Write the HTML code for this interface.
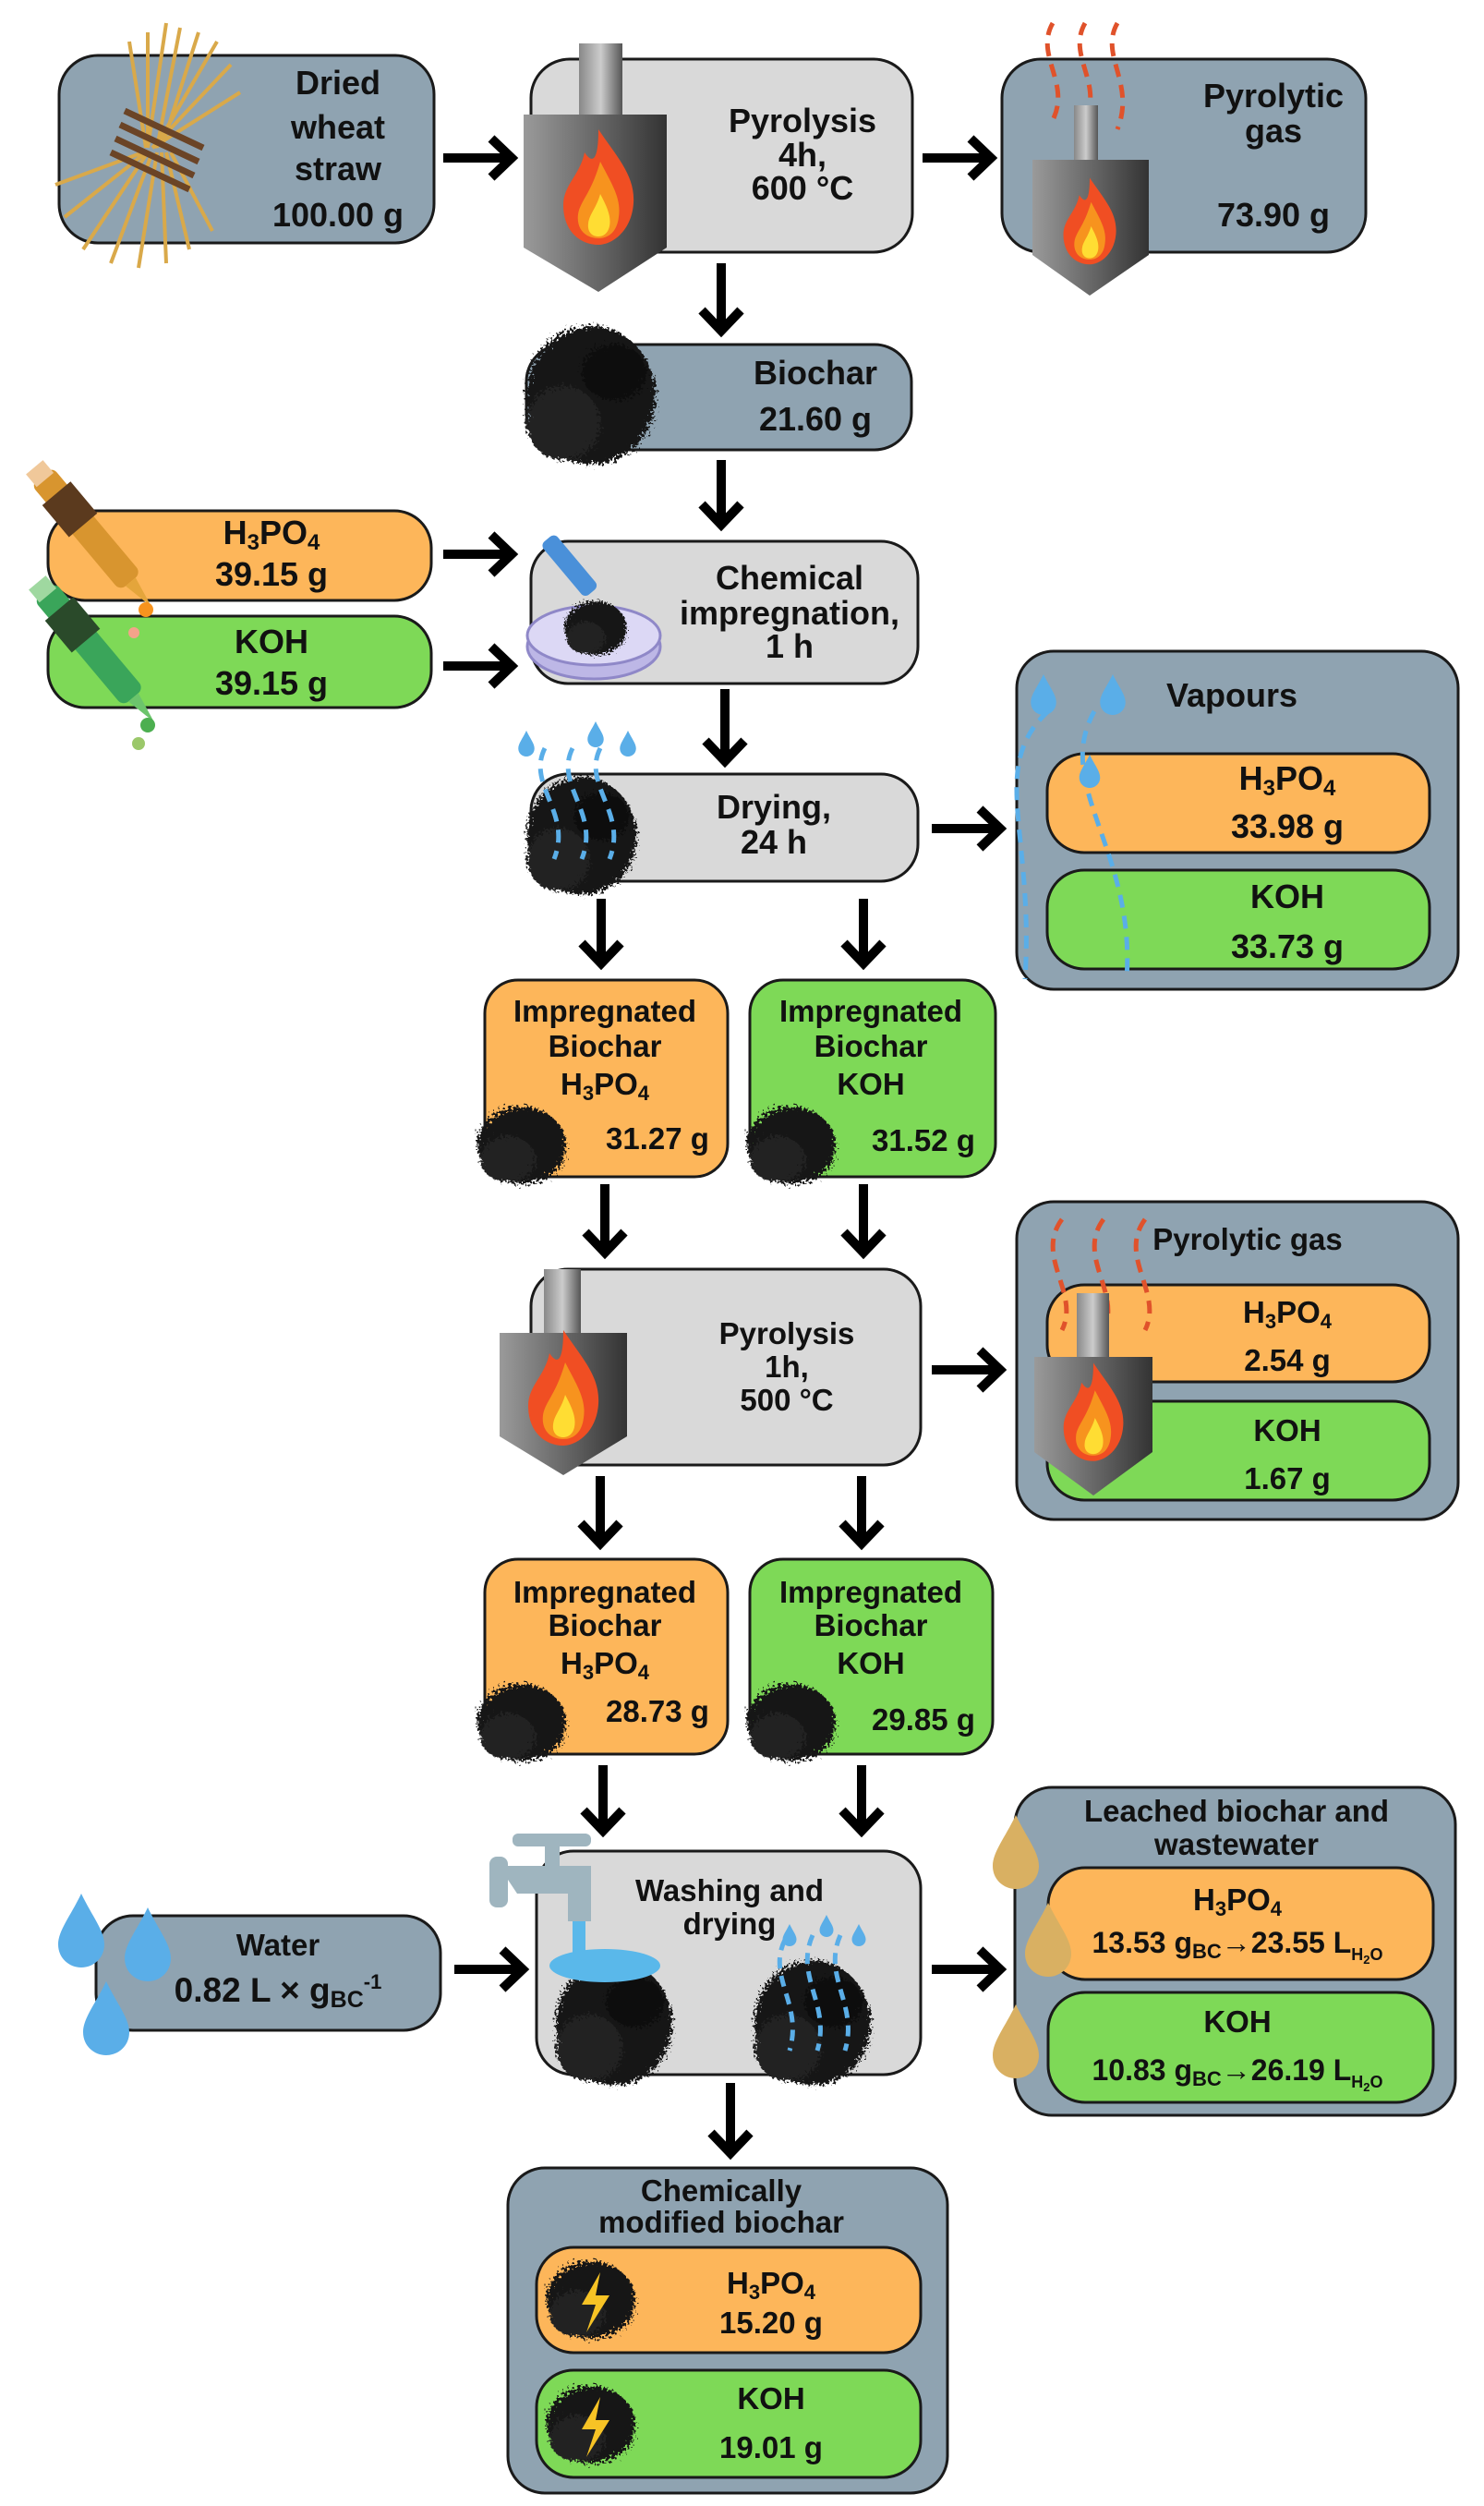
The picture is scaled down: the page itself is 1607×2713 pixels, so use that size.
<!DOCTYPE html>
<html><head><meta charset="utf-8"><style>
html,body{margin:0;padding:0;background:#fff}
svg{display:block}
text{font-family:"Liberation Sans Narrow","Liberation Sans",sans-serif;font-weight:bold;fill:#111;text-anchor:middle}
.w text,text.w{font-family:"Liberation Sans",sans-serif}
</style></head><body>
<svg width="1607" height="2713" viewBox="0 0 1607 2713" xmlns="http://www.w3.org/2000/svg">
<defs>
<linearGradient id="fg" x1="0" x2="1"><stop offset="0" stop-color="#9a9a9a"/><stop offset="0.6" stop-color="#5e5e5e"/><stop offset="1" stop-color="#333"/></linearGradient>
<linearGradient id="cg" x1="0" x2="1"><stop offset="0" stop-color="#888"/><stop offset="0.5" stop-color="#ccc"/><stop offset="1" stop-color="#555"/></linearGradient>
<filter id="rough"><feTurbulence type="fractalNoise" baseFrequency="0.35" numOctaves="2" result="n"/><feDisplacementMap in="SourceGraphic" in2="n" scale="18"/></filter>
<g id="flame"><path d="M0,-70 C20,-40 40,-20 38,10 C36,40 15,55 0,55 C-20,55 -38,40 -38,12 C-38,-10 -20,-20 -15,-45 C-5,-30 0,-40 0,-70Z" fill="#f04e23"/><path d="M2,-35 C15,-10 25,5 22,25 C20,42 10,48 0,48 C-14,48 -24,38 -22,22 C-20,8 -8,0 2,-35Z" fill="#f7931e"/><path d="M2,0 C10,15 14,25 12,35 C10,44 4,46 0,46 C-8,46 -12,40 -11,32 C-10,22 -2,15 2,0Z" fill="#ffdd33"/></g>
<g id="blob" filter="url(#rough)"><ellipse cx="0" cy="0" rx="70" ry="75" fill="#141414"/><ellipse cx="-30" cy="30" rx="40" ry="40" fill="#222"/><ellipse cx="25" cy="-25" rx="35" ry="30" fill="#0c0c0c"/></g>
<g id="blobs" filter="url(#rough)"><ellipse cx="0" cy="0" rx="48" ry="42" fill="#141414"/><ellipse cx="-15" cy="15" rx="30" ry="25" fill="#222"/></g>
<g id="drop"><path d="M0,-40 C12,-15 25,0 25,15 C25,30 13,40 0,40 C-13,40 -25,30 -25,15 C-25,0 -12,-15 0,-40Z"/></g>
</defs>

<g stroke="#1a1a1a" stroke-width="3">
<rect x="64" y="60" width="406" height="203" rx="42" fill="#8fa3b1"/>
<rect x="575" y="64" width="413" height="209" rx="42" fill="#d9d9d9"/>
<rect x="1085" y="64" width="394" height="209" rx="42" fill="#8fa3b1"/>
<rect x="570" y="373" width="417" height="114" rx="40" fill="#8fa3b1"/>
<rect x="52" y="553" width="415" height="97" rx="40" fill="#fdb65a"/>
<rect x="52" y="667" width="415" height="99" rx="40" fill="#7ed957"/>
<rect x="575" y="586" width="419" height="154" rx="40" fill="#d9d9d9"/>
<rect x="575" y="838" width="419" height="116" rx="40" fill="#d9d9d9"/>
<rect x="1101" y="705" width="478" height="366" rx="40" fill="#8fa3b1"/>
<rect x="1134" y="816" width="414" height="107" rx="40" fill="#fdb65a"/>
<rect x="1134" y="942" width="414" height="107" rx="40" fill="#7ed957"/>
<rect x="525" y="1061" width="263" height="213" rx="36" fill="#fdb65a"/>
<rect x="812" y="1061" width="266" height="213" rx="36" fill="#7ed957"/>
<rect x="575" y="1374" width="422" height="212" rx="40" fill="#d9d9d9"/>
<rect x="1101" y="1301" width="478" height="344" rx="40" fill="#8fa3b1"/>
<rect x="1134" y="1391" width="414" height="105" rx="40" fill="#fdb65a"/>
<rect x="1134" y="1517" width="414" height="107" rx="40" fill="#7ed957"/>
<rect x="525" y="1688" width="263" height="211" rx="36" fill="#fdb65a"/>
<rect x="812" y="1688" width="263" height="211" rx="36" fill="#7ed957"/>
<rect x="581" y="2004" width="416" height="242" rx="40" fill="#d9d9d9"/>
<rect x="104" y="2074" width="373" height="124" rx="40" fill="#8fa3b1"/>
<rect x="1099" y="1935" width="477" height="355" rx="40" fill="#8fa3b1"/>
<rect x="1135" y="2022" width="417" height="121" rx="40" fill="#fdb65a"/>
<rect x="1135" y="2157" width="417" height="119" rx="40" fill="#7ed957"/>
<rect x="550" y="2347" width="476" height="352" rx="40" fill="#8fa3b1"/>
<rect x="581" y="2433" width="416" height="114" rx="40" fill="#fdb65a"/>
<rect x="581" y="2566" width="416" height="116" rx="40" fill="#7ed957"/>
</g>

<g stroke="#000" stroke-width="10" fill="none" stroke-linejoin="miter">
<path d="M480,171H552M532,150L554,171L532,192"/>
<path d="M999,171H1071M1051,150L1073,171L1051,192"/>
<path d="M480,600H552M532,579L554,600L532,621"/>
<path d="M480,721H552M532,700L554,721L532,742"/>
<path d="M1009,897H1081M1061,876L1083,897L1061,918"/>
<path d="M1009,1483H1081M1061,1462L1083,1483L1061,1504"/>
<path d="M492,2132H564M544,2111L566,2132L544,2153"/>
<path d="M1009,2132H1081M1061,2111L1083,2132L1061,2153"/>
<path d="M781,285V356M760,336L781,358L802,336"/>
<path d="M781,498V566M760,546L781,568L802,546"/>
<path d="M785,746V822M764,802L785,824L806,802"/>
<path d="M651,973V1041M630,1021L651,1043L672,1021"/>
<path d="M935,973V1041M914,1021L935,1043L956,1021"/>
<path d="M655,1282V1354M634,1334L655,1356L676,1334"/>
<path d="M935,1282V1354M914,1334L935,1356L956,1334"/>
<path d="M650,1598V1669M629,1649L650,1671L671,1649"/>
<path d="M933,1598V1669M912,1649L933,1671L954,1649"/>
<path d="M653,1911V1980M632,1960L653,1982L674,1960"/>
<path d="M933,1911V1980M912,1960L933,1982L954,1960"/>
<path d="M791,2255V2329M770,2309L791,2331L812,2309"/>
</g>

<!-- straw bundle -->
<g stroke="#d9a94a" stroke-width="4" fill="none">
<path d="M175,160L215,35M170,160L195,30M168,160L235,45M165,160L250,70M160,160L180,25M165,160L260,100M160,160L160,35M158,160L140,45"/>
<path d="M160,165L90,270M165,165L120,285M170,165L150,290M175,165L180,285M180,165L205,270M158,165L70,235M155,165L60,200M185,165L230,250"/>
</g>
<g stroke="#6b4426" stroke-width="7"><path d="M130,135L215,175M125,150L210,190M120,165L205,205M135,120L220,160"/></g>

<rect x="627" y="47" width="47" height="77" fill="url(#cg)"/>
<path d="M567,124H722V268L648,316L567,268Z" fill="url(#fg)"/>
<use href="#flame" x="648" y="210"/>
<g stroke="#e0522b" stroke-width="5" fill="none" stroke-dasharray="14 9">
<path d="M1140,25C1120,60 1160,90 1140,130M1175,25C1155,60 1195,90 1175,130M1210,25C1190,60 1230,90 1210,140"/>
</g>
<rect x="1163" y="114" width="26" height="59" fill="url(#cg)"/>
<path d="M1118,173H1244V276L1180,320L1118,276Z" fill="url(#fg)"/>
<use href="#flame" x="1180" y="245" transform="translate(1180,245) scale(0.75) translate(-1180,-245)"/>

<use href="#blob" x="640" y="428"/>

<!-- droppers -->
<g transform="translate(45,515) rotate(-40)"><rect x="-15" y="0" width="30" height="150" rx="8" fill="#d8952f"/><rect x="-20" y="25" width="40" height="45" fill="#5b3a1e"/><rect x="-12" y="-12" width="24" height="18" fill="#f0c89a"/><path d="M-7,150L0,185L7,150Z" fill="#e4a53b"/></g>
<circle cx="158" cy="660" r="8" fill="#f7931e"/><circle cx="145" cy="685" r="6" fill="#f4a38a"/>
<g transform="translate(48,640) rotate(-40)"><rect x="-15" y="0" width="30" height="150" rx="8" fill="#3aa55a"/><rect x="-20" y="25" width="40" height="45" fill="#2a4a2a"/><rect x="-12" y="-12" width="24" height="18" fill="#9fd8a0"/><path d="M-7,150L0,185L7,150Z" fill="#6cc46c"/></g>
<circle cx="160" cy="785" r="8" fill="#4caf50"/><circle cx="150" cy="805" r="7" fill="#9bc86a"/>

<ellipse cx="643" cy="700" rx="72" ry="35" fill="#bdb7e6" stroke="#8f88c8" stroke-width="3"/>
<ellipse cx="643" cy="688" rx="72" ry="32" fill="#dcd8f5" stroke="#8f88c8" stroke-width="3"/>
<use href="#blobs" x="645" y="680" transform="translate(645,680) scale(0.7) translate(-645,-680)"/>
<g transform="translate(585,590) rotate(-40)"><rect x="0" y="0" width="20" height="75" rx="6" fill="#4a90d9"/></g>

<use href="#blob" x="630" y="905" transform="translate(630,905) scale(0.85) translate(-630,-905)"/>
<g stroke="#5aaee8" stroke-width="5" fill="none" stroke-dasharray="14 9">
<path d="M590,810C570,850 620,880 600,930M620,810C600,850 650,880 630,930M650,810C630,850 680,880 660,930"/>
<path d="M1135,770C1070,830 1120,900 1110,1060M1185,770C1140,850 1230,920 1220,1060"/>
</g>
<g fill="#5aaee8"><use href="#drop" x="570" y="805" transform="translate(570,805) scale(0.35) translate(-570,-805)"/><use href="#drop" x="645" y="795" transform="translate(645,795) scale(0.35) translate(-645,-795)"/><use href="#drop" x="680" y="805" transform="translate(680,805) scale(0.35) translate(-680,-805)"/>
<use href="#drop" x="1130" y="752" transform="translate(1130,752) scale(0.55) translate(-1130,-752)"/><use href="#drop" x="1205" y="752" transform="translate(1205,752) scale(0.55) translate(-1205,-752)"/><use href="#drop" x="1180" y="835" transform="translate(1180,835) scale(0.45) translate(-1180,-835)"/></g>

<use href="#blobs" x="565" y="1240"/><use href="#blobs" x="857" y="1240"/>
<use href="#blobs" x="565" y="1865"/><use href="#blobs" x="857" y="1865"/>

<rect x="589" y="1374" width="40" height="69" fill="url(#cg)"/>
<path d="M541,1443H679V1555L610,1597L541,1555Z" fill="url(#fg)"/>
<use href="#flame" x="610" y="1510"/>
<g stroke="#e0522b" stroke-width="5" fill="none" stroke-dasharray="14 9">
<path d="M1150,1320C1120,1360 1170,1400 1150,1440M1195,1320C1165,1360 1215,1400 1195,1440M1240,1320C1210,1360 1260,1400 1240,1440"/>
</g>
<rect x="1166" y="1400" width="35" height="69" fill="url(#cg)"/>
<path d="M1120,1469H1248V1572L1184,1619L1120,1572Z" fill="url(#fg)"/>
<use href="#flame" x="1184" y="1535" transform="translate(1184,1535) scale(0.85) translate(-1184,-1535)"/>

<use href="#blob" x="665" y="2190" transform="translate(665,2190) scale(0.9) translate(-665,-2190)"/>
<use href="#blob" x="880" y="2190" transform="translate(880,2190) scale(0.9) translate(-880,-2190)"/>
<ellipse cx="655" cy="2128" rx="60" ry="18" fill="#5ab8ea"/>
<g fill="#9fb5bf"><rect x="555" y="1985" width="85" height="14" rx="6"/><rect x="590" y="1995" width="16" height="25"/><path d="M540,2020H640V2080H615V2050H560Z"/><rect x="530" y="2010" width="20" height="55" rx="8"/></g>
<rect x="620" y="2080" width="14" height="50" fill="#5ab8ea"/>
<g stroke="#5aaee8" stroke-width="5" fill="none" stroke-dasharray="12 8">
<path d="M850,2100C830,2140 870,2170 855,2220M880,2095C860,2140 900,2170 885,2220M910,2095C890,2140 930,2170 915,2220"/></g>
<g fill="#5aaee8"><use href="#drop" x="855" y="2095" transform="translate(855,2095) scale(0.3) translate(-855,-2095)"/><use href="#drop" x="895" y="2085" transform="translate(895,2085) scale(0.3) translate(-895,-2085)"/><use href="#drop" x="930" y="2095" transform="translate(930,2095) scale(0.3) translate(-930,-2095)"/></g>

<g fill="#5aaee8"><use href="#drop" x="88" y="2090"/><use href="#drop" x="160" y="2105"/><use href="#drop" x="115" y="2185"/></g>
<g fill="#d9b062"><use href="#drop" x="1100" y="2005"/><use href="#drop" x="1135" y="2100"/><use href="#drop" x="1100" y="2210"/></g>

<use href="#blobs" x="640" y="2490"/><use href="#blobs" x="640" y="2625"/>
<g fill="#f7c325"><path d="M650,2460L630,2495H645L635,2525L660,2485H645Z"/><path d="M650,2595L630,2630H645L635,2660L660,2620H645Z"/></g>

<g font-size="36">
<text x="366" y="102">Dried</text><text x="366" y="150">wheat</text><text x="366" y="195">straw</text><text x="366" y="245">100.00 g</text>
<text x="869" y="143">Pyrolysis</text><text x="869" y="180">4h,</text><text x="869" y="216">600 °C</text>
<text x="1379" y="116">Pyrolytic</text><text x="1379" y="154">gas</text><text x="1379" y="245">73.90 g</text>
<text x="883" y="416">Biochar</text><text x="883" y="466">21.60 g</text>
<text x="294" y="589">H<tspan font-size="24" dy="6">3</tspan><tspan dy="-6">PO</tspan><tspan font-size="24" dy="6">4</tspan></text><text x="294" y="634">39.15 g</text>
<text x="294" y="707">KOH</text><text x="294" y="752">39.15 g</text>
<text x="855" y="638">Chemical</text><text x="855" y="676">impregnation,</text><text x="855" y="712">1 h</text>
<text x="838" y="886">Drying,</text><text x="838" y="924">24 h</text>
<text x="1334" y="765">Vapours</text>
<text x="1394" y="855">H<tspan font-size="24" dy="6">3</tspan><tspan dy="-6">PO</tspan><tspan font-size="24" dy="6">4</tspan></text><text x="1394" y="907">33.98 g</text>
<text x="1394" y="983">KOH</text><text x="1394" y="1037">33.73 g</text>
</g>
<g class="w" font-size="33">
<text x="655" y="1106">Impregnated</text><text x="655" y="1144">Biochar</text><text x="655" y="1185">H<tspan font-size="22" dy="6">3</tspan><tspan dy="-6">PO</tspan><tspan font-size="22" dy="6">4</tspan></text><text x="712" y="1244">31.27 g</text>
<text x="943" y="1106">Impregnated</text><text x="943" y="1144">Biochar</text><text x="943" y="1185">KOH</text><text x="1000" y="1246">31.52 g</text>
<text x="852" y="1455">Pyrolysis</text><text x="852" y="1491">1h,</text><text x="852" y="1527">500 °C</text>
<text x="1351" y="1353">Pyrolytic gas</text>
<text x="1394" y="1432">H<tspan font-size="22" dy="6">3</tspan><tspan dy="-6">PO</tspan><tspan font-size="22" dy="6">4</tspan></text><text x="1394" y="1484">2.54 g</text>
<text x="1394" y="1560">KOH</text><text x="1394" y="1612">1.67 g</text>
<text x="655" y="1735">Impregnated</text><text x="655" y="1771">Biochar</text><text x="655" y="1812">H<tspan font-size="22" dy="6">3</tspan><tspan dy="-6">PO</tspan><tspan font-size="22" dy="6">4</tspan></text><text x="712" y="1864">28.73 g</text>
<text x="943" y="1735">Impregnated</text><text x="943" y="1771">Biochar</text><text x="943" y="1812">KOH</text><text x="1000" y="1873">29.85 g</text>
<text x="790" y="2058">Washing and</text><text x="790" y="2094">drying</text>
<text x="301" y="2117">Water</text>
<text x="301" y="2167" font-size="37">0.82 L × g<tspan font-size="25" dy="6">BC</tspan><tspan font-size="22" dy="-20">-1</tspan></text>
<text x="1339" y="1972">Leached biochar and</text><text x="1339" y="2008">wastewater</text>
<text x="1340" y="2068">H<tspan font-size="22" dy="6">3</tspan><tspan dy="-6">PO</tspan><tspan font-size="22" dy="6">4</tspan></text>
<text x="1340" y="2114" font-size="32">13.53 g<tspan font-size="22" dy="6">BC</tspan><tspan dy="-6">→23.55 L</tspan><tspan font-size="18" dy="8">H</tspan><tspan font-size="13" dy="4">2</tspan><tspan font-size="18" dy="-4">O</tspan></text>
<text x="1340" y="2200">KOH</text>
<text x="1340" y="2252" font-size="32">10.83 g<tspan font-size="22" dy="6">BC</tspan><tspan dy="-6">→26.19 L</tspan><tspan font-size="18" dy="8">H</tspan><tspan font-size="13" dy="4">2</tspan><tspan font-size="18" dy="-4">O</tspan></text>
<text x="781" y="2383">Chemically</text><text x="781" y="2417">modified biochar</text>
<text x="835" y="2483">H<tspan font-size="22" dy="6">3</tspan><tspan dy="-6">PO</tspan><tspan font-size="22" dy="6">4</tspan></text><text x="835" y="2526">15.20 g</text>
<text x="835" y="2608">KOH</text><text x="835" y="2661">19.01 g</text>
</g>
</svg>
</body></html>
